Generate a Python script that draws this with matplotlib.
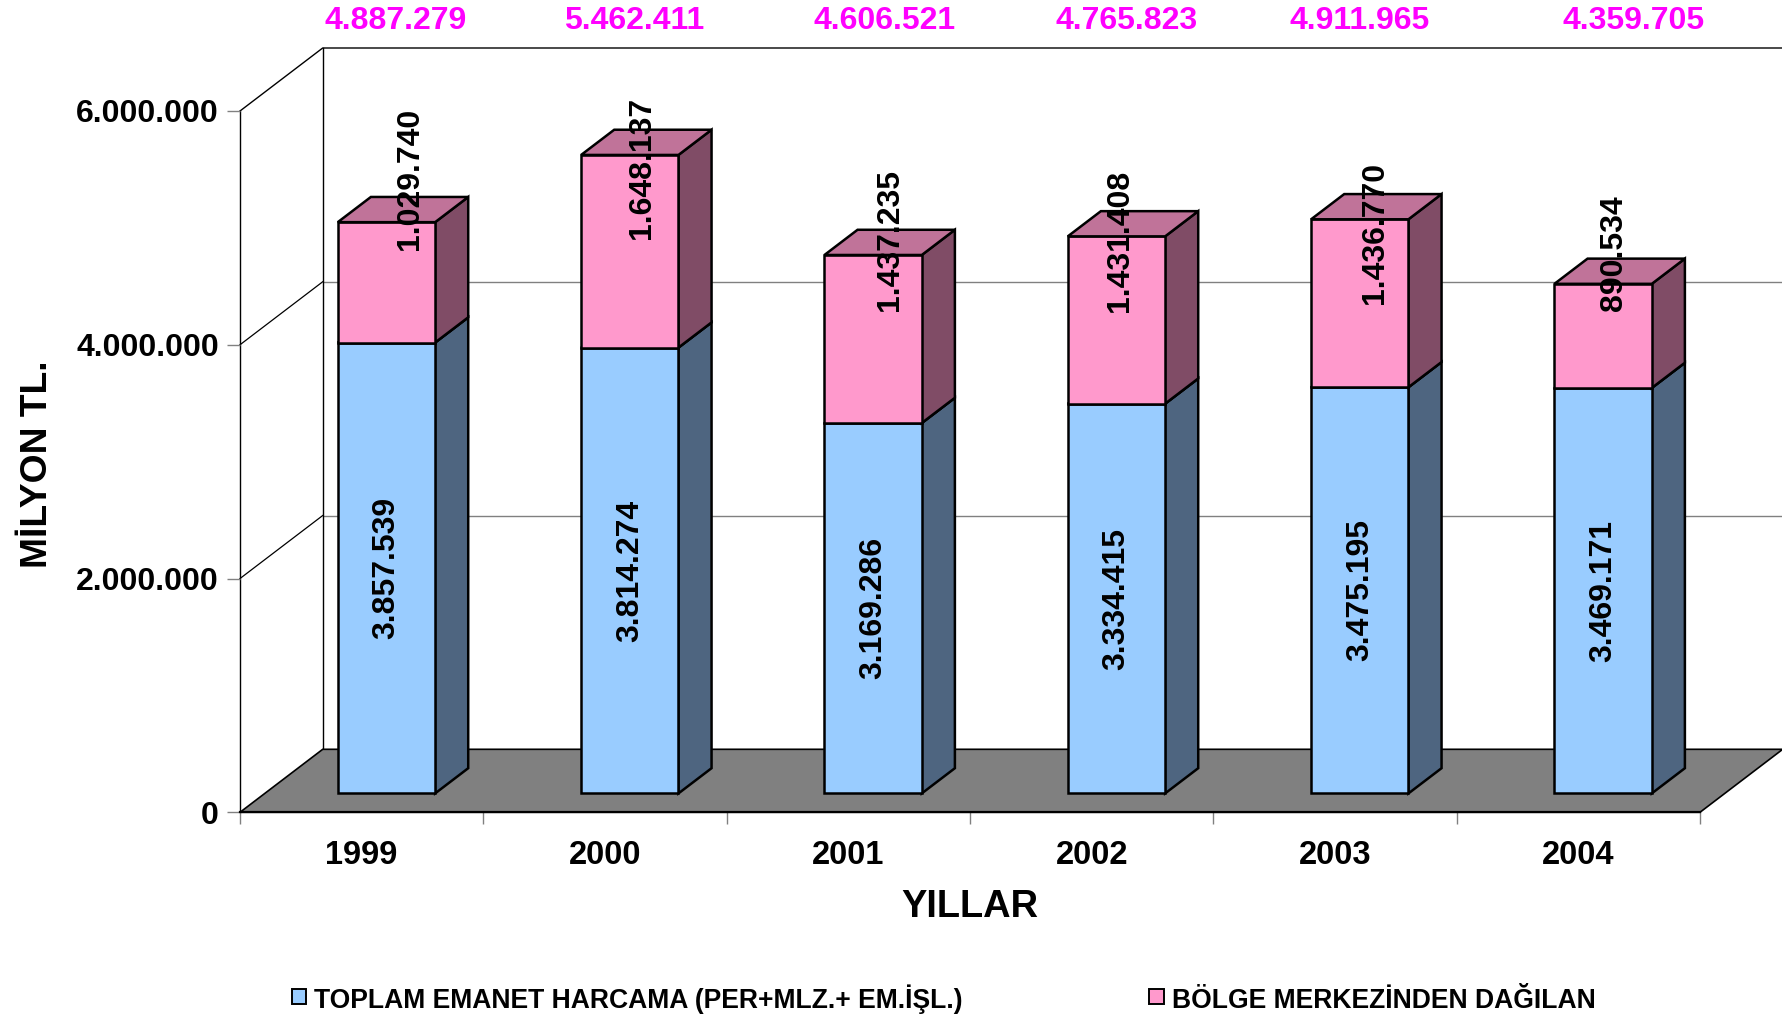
import matplotlib
matplotlib.use("Agg")
import matplotlib.pyplot as plt
from matplotlib.patches import Polygon, Rectangle
from matplotlib import transforms

plt.rcParams["font.family"] = ["Liberation Sans", "DejaVu Sans"]
plt.rcParams["font.weight"] = "bold"

# data (TL, milyon)
years = ["1999", "2000", "2001", "2002", "2003", "2004"]
emanet = [3857539, 3814274, 3169286, 3334415, 3475195, 3469171]
bolge = [1029740, 1648137, 1437235, 1431408, 1436770, 890534]
y_ticks = [0, 2000000, 4000000, 6000000]
series_names = ["TOPLAM EMANET HARCAMA (PER+MLZ.+ EM.İŞL.)",
                "BÖLGE MERKEZİNDEN DAĞILAN"]
# hand-placed label nudges from the original (x in category units, y in TL)
bolge_lbl_dx = [0.095, 0.049, 0.07, 0.016, 0.062, 0.045]
bolge_lbl_dy = [370000, -110000, 130000, -40000, -120000, 265000]
total_lbl_dx = [0.037, 0.016, 0.045, 0.041, 0.0, 0.127]

blue, blue_side = "#99CCFF", "#4E6580"
pink, pink_side, pink_top = "#FF99CC", "#804C66", "#C07399"


def tr(n):
    return f"{n:,}".replace(",", ".")


W, H = 1782, 1016
fig = plt.figure(figsize=(W / 100, H / 100), dpi=100)
# axes = front plane of the 3d box
ax = fig.add_axes([240 / W, (H - 812.3) / H, 1460 / W, 701.3 / H])
ax.set_xlim(0, 6)
ax.set_ylim(0, 6000000)
for s in ax.spines.values():
    s.set_visible(False)

DX = 82.7 / (1460 / 6)            # depth offset in category units
DY = 63 / 701.3 * 6000000         # depth offset in value units
n = len(years)

# back wall + left wall
ax.add_patch(Polygon([(DX, DY), (n + DX, DY), (n + DX, 6e6 + DY), (DX, 6e6 + DY)],
                     closed=True, fc="white", ec="none", zorder=0, clip_on=False))
for v in y_ticks[1:-1]:
    ax.plot([0, DX], [v, v + DY], color="black", lw=0.9, zorder=1, clip_on=False)
    ax.plot([DX, n + DX], [v + DY, v + DY], color="#808080", lw=1.0, zorder=1, clip_on=False)
ax.plot([0, DX, n + DX], [6e6, 6e6 + DY, 6e6 + DY], color="black", lw=1.0, zorder=1, clip_on=False)
ax.plot([DX, DX], [DY, 6e6 + DY], color="black", lw=1.0, zorder=1, clip_on=False)
ax.plot([0, 0], [0, 6e6], color="black", lw=1.0, zorder=1, clip_on=False)

# floor
ax.add_patch(Polygon([(0, 0), (n, 0), (n + DX, DY), (DX, DY)], closed=True,
                     fc="#808080", ec="black", lw=1.2, zorder=2, clip_on=False))
ax.plot([0, n], [0, 0], color="black", lw=1.6, zorder=2, clip_on=False)


def box(x0, b, t, w, front, side, top, z):
    d, e = 0.4 * DX, 0.4 * DY
    kw = dict(closed=True, ec="black", lw=1.8, joinstyle="miter", zorder=z, clip_on=False)
    ax.add_patch(Polygon([(x0 + w, b), (x0 + w + d, b + e), (x0 + w + d, t + e), (x0 + w, t)], fc=side, **kw))
    ax.add_patch(Polygon([(x0, b), (x0 + w, b), (x0 + w, t), (x0, t)], fc=front, **kw))
    ax.add_patch(Polygon([(x0, t), (x0 + w, t), (x0 + w + d, t + e), (x0 + d, t + e)], fc=top, **kw))


bw = 0.4
y0 = 0.3 * DY
tot_tr = transforms.blended_transform_factory(ax.transData, fig.transFigure)
for i in range(n):
    x0 = i + 0.3 + 0.3 * DX
    total = emanet[i] + bolge[i]
    box(x0, y0, y0 + emanet[i], bw, blue, blue_side, blue_side, 3)
    box(x0, y0 + emanet[i], y0 + total, bw, pink, pink_side, pink_top, 3)
    ax.text(x0 + bw / 2, y0 + emanet[i] / 2, tr(emanet[i]), rotation=90,
            ha="center", va="center", fontsize=23, fontweight="bold", zorder=5)
    ax.text(x0 + bw / 2 + bolge_lbl_dx[i], y0 + total + bolge_lbl_dy[i], tr(bolge[i]), rotation=90,
            ha="center", va="center", fontsize=23, fontweight="bold", zorder=5)
    ax.text(x0 + bw / 2 + total_lbl_dx[i], 1 - 29 / H, tr(total), transform=tot_tr,
            ha="center", va="baseline", fontsize=23, fontweight="bold", color="#FF00FF")

# axes ticks
ax.set_yticks(y_ticks, labels=[tr(v) for v in y_ticks])
ax.tick_params(axis="y", length=9.4, width=1, color="#808080", pad=5.8, labelsize=23)
ax.set_xticks(range(n + 1), labels=[""] * (n + 1))
ax.set_xticks([i + 0.5 for i in range(n)], labels=years, minor=True)
ax.tick_params(axis="x", which="major", length=8.6, width=1, color="#808080")
ax.tick_params(axis="x", which="minor", length=0, pad=20, labelsize=23.5)
for lab in ax.get_xticklabels(minor=True) + ax.get_yticklabels():
    lab.set_fontweight("bold")

fig.text(38 / W, 1 - 464 / H, "MİLYON TL.", rotation=90, ha="center", va="center",
         fontsize=26.8, fontweight="bold")
fig.text(970 / W, 1 - 917.3 / H, "YILLAR", ha="center", va="baseline",
         fontsize=27.4, fontweight="bold")

# legend
for sx, tx, col, name in [(291.7, 313.5, blue, series_names[0]), (1149, 1172, pink, series_names[1])]:
    fig.patches.append(Rectangle((sx / W, 1 - 1004 / H), 14.5 / W, 15 / H, transform=fig.transFigure,
                                 fc=col, ec="black", lw=1.4))
    fig.text(tx / W, 1 - 1008 / H, name, ha="left", va="baseline", fontsize=19.1, fontweight="bold")

fig.savefig("out.png", dpi=100)
